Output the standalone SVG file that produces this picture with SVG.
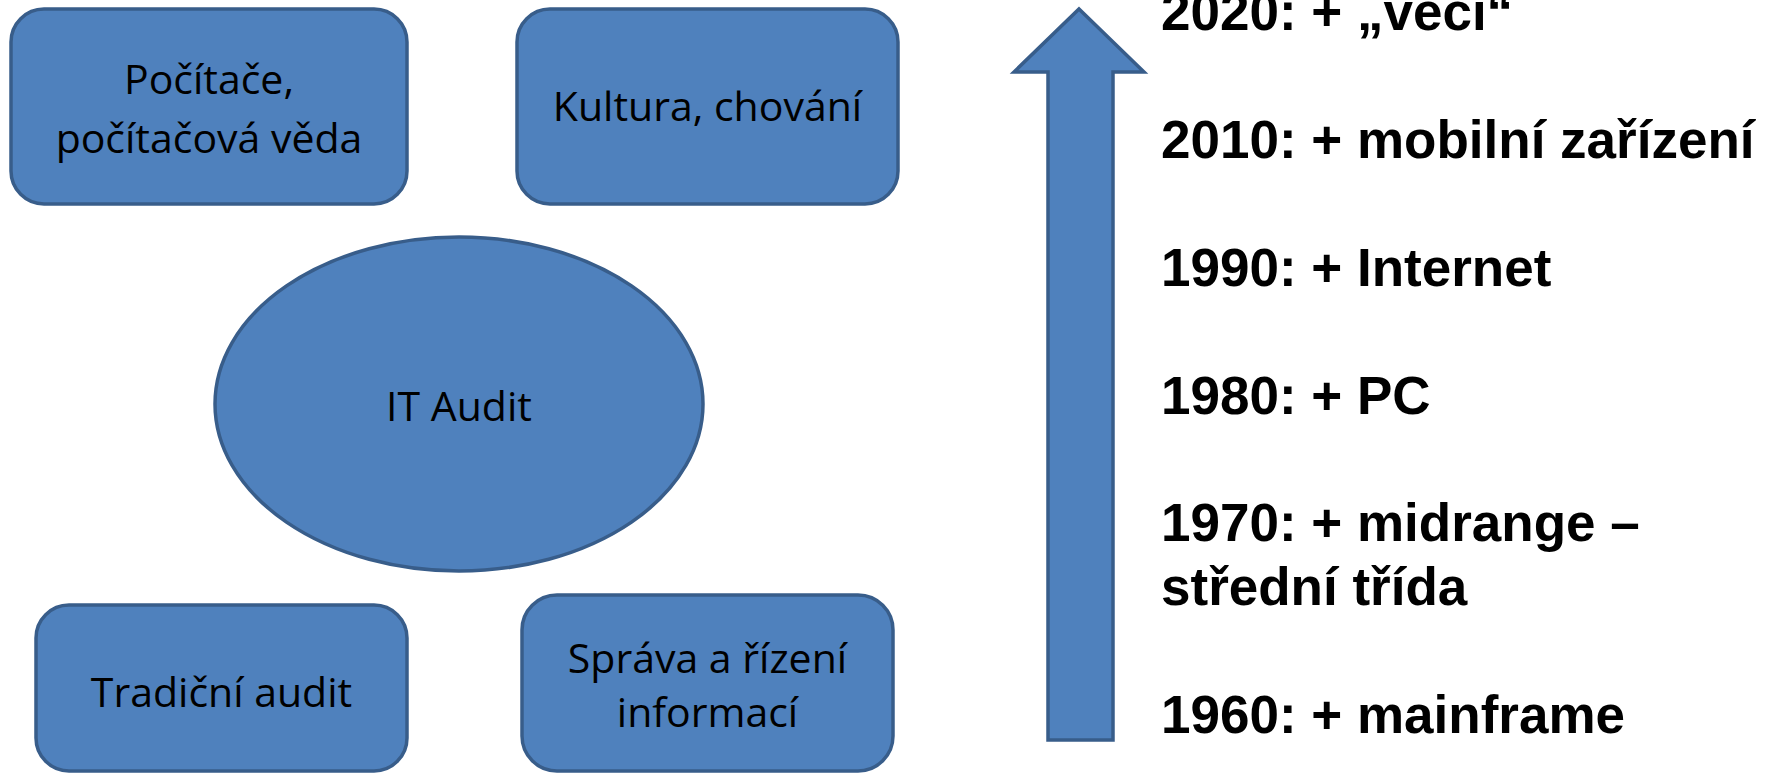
<svg xmlns="http://www.w3.org/2000/svg" width="1771" height="773" viewBox="0 0 1771 773">
<style>
.shape{fill:#4F81BD;stroke:#385D8A;stroke-width:3.5}
.lbl{font-family:"Open Sans","Liberation Sans",sans-serif;font-size:41px;fill:#000;text-anchor:middle}
.tl{font-family:"Liberation Sans",Arial,sans-serif;font-size:53px;font-weight:bold;fill:#000}
</style>
<rect width="1771" height="773" fill="#fff"/>
<g id="node-pocitace">
<rect class="shape" x="11" y="9" width="396" height="195" rx="33" ry="33"/>
<text class="lbl" x="209" y="94">Počítače,</text>
<text class="lbl" x="209" y="153">počítačová věda</text>
</g>
<g id="node-kultura">
<rect class="shape" x="517" y="9" width="381" height="195" rx="33" ry="33"/>
<text class="lbl" x="707.5" y="121">Kultura, chování</text>
</g>
<g id="node-itaudit">
<ellipse class="shape" cx="459" cy="404" rx="244" ry="167"/>
<text class="lbl" x="459" y="421">IT Audit</text>
</g>
<g id="node-tradicni">
<rect class="shape" x="36" y="605" width="371" height="166" rx="33" ry="33"/>
<text class="lbl" x="221.5" y="707">Tradiční audit</text>
</g>
<g id="node-sprava">
<rect class="shape" x="522" y="595" width="371" height="176" rx="35" ry="35"/>
<text class="lbl" x="707.5" y="673">Správa a řízení</text>
<text class="lbl" x="707.5" y="727">informací</text>
</g>
<g id="timeline-arrow">
<polygon class="shape" points="1079,9 1144,72 1113,72 1113,740 1048,740 1048,72 1014,72"/>
</g>
<g id="timeline-labels">
<text class="tl" x="1161" y="30">2020: + „věci“</text>
<text class="tl" x="1161" y="158">2010: + mobilní zařízení</text>
<text class="tl" x="1161" y="286">1990: + Internet</text>
<text class="tl" x="1161" y="414">1980: + PC</text>
<text class="tl" x="1161" y="541">1970: + midrange –</text>
<text class="tl" x="1161" y="605">střední třída</text>
<text class="tl" x="1161" y="733">1960: + mainframe</text>
</g>
<g id="connectors"></g>
</svg>
